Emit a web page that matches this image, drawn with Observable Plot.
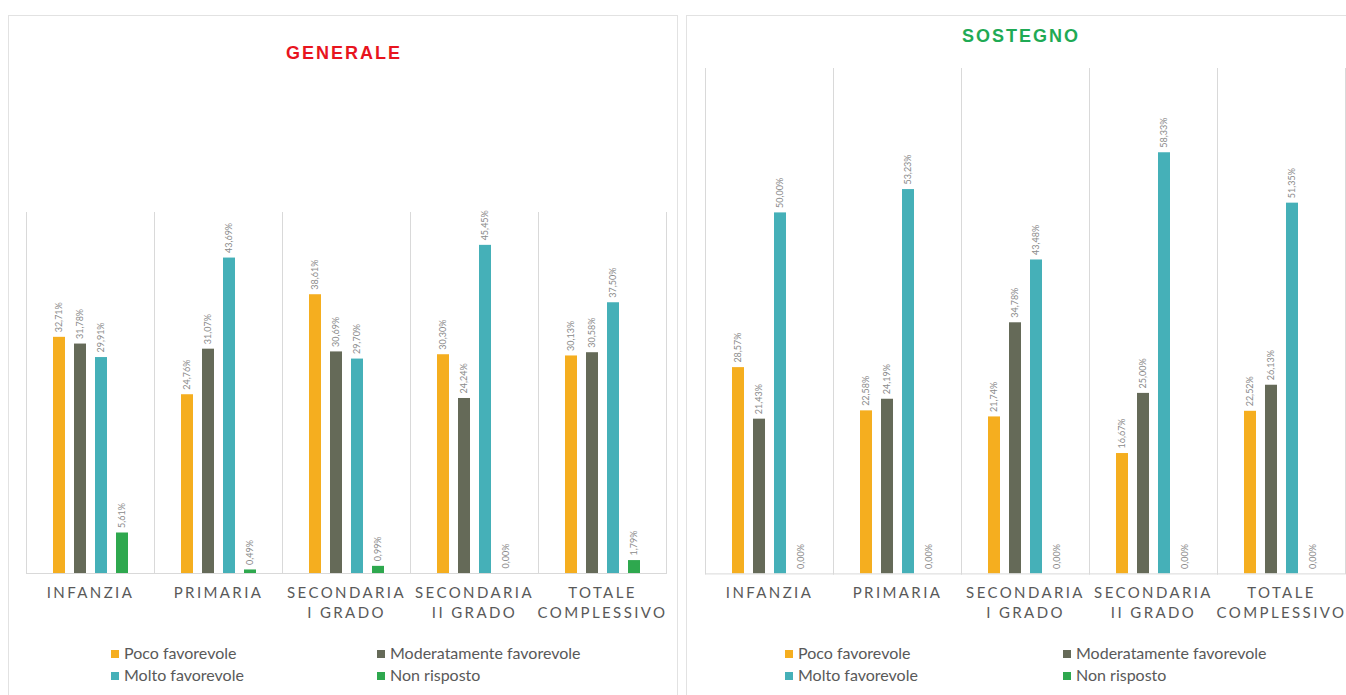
<!DOCTYPE html>
<html><head><meta charset="utf-8">
<script src="https://cdn.jsdelivr.net/npm/d3@7"></script>
<script src="https://cdn.jsdelivr.net/npm/@observablehq/plot@0.6"></script>
<style>
body{margin:0;background:#fff;}
#page{position:relative;width:1346px;height:695px;overflow:hidden;font-family:Lato,sans-serif;background:#fff;}
.panel{position:absolute;border:1px solid #e2e2e2;box-sizing:border-box;background:#fff;}
.title{position:absolute;font-family:"Liberation Sans",Arial,sans-serif;font-weight:bold;font-size:18px;letter-spacing:2px;transform:translate(-50%,-50%);white-space:nowrap;}
.chart{position:absolute;width:680px;}
.chart svg{max-width:none !important;}
.li{position:absolute;white-space:nowrap;font-size:16px;color:#595959;transform:translateY(-50%);line-height:18px;}
.sw{display:inline-block;width:8px;height:8px;margin-right:5px;vertical-align:1px;}
g[aria-label="fx-axis tick label"] text{letter-spacing:2.4px;}
</style></head>
<body><div id="page"></div>
<script>
const categories = ["INFANZIA", "PRIMARIA", "SECONDARIA\nI GRADO", "SECONDARIA\nII GRADO", "TOTALE\nCOMPLESSIVO"];
const seriesNames = ["Poco favorevole", "Moderatamente favorevole", "Molto favorevole", "Non risposto"];
const seriesColors = ["#f5ae1f", "#656a58", "#45b0b8", "#2ea84e"];

// GENERALE (percent)
const generalePoco = [32.71, 24.76, 38.61, 30.30, 30.13];
const generaleModerato = [31.78, 31.07, 30.69, 24.24, 30.58];
const generaleMolto = [29.91, 43.69, 29.70, 45.45, 37.50];
const generaleNonRisposto = [5.61, 0.49, 0.99, 0.00, 1.79];

// SOSTEGNO (percent)
const sostegnoPoco = [28.57, 22.58, 21.74, 16.67, 22.52];
const sostegnoModerato = [21.43, 24.19, 34.78, 25.00, 26.13];
const sostegnoMolto = [50.00, 53.23, 43.48, 58.33, 51.35];
const sostegnoNonRisposto = [0.00, 0.00, 0.00, 0.00, 0.00];

const generaleYMax = 50;
const sostegnoYMax = 70;

function rows(arrays) {
  const out = [];
  categories.forEach((c, i) => {
    seriesNames.forEach((s, j) => out.push({cat: c, series: s, value: arrays[j][i]}));
  });
  return out;
}
const fmt = v => v.toFixed(2).replace(".", ",") + "%";

function makeChart(data, yMax, width, marginLeft, marginRight, plotH) {
  return Plot.plot({
    width,
    height: 22 + plotH + 60,
    marginTop: 22,
    marginBottom: 60,
    marginLeft,
    marginRight,
    style: {background: "transparent", overflow: "visible", maxWidth: "none"},
    fx: {domain: categories, padding: 0, label: null, axis: null},
    x: {domain: seriesNames, paddingInner: 0.45, paddingOuter: 1.14, axis: null},
    y: {domain: [0, yMax], axis: null},
    color: {domain: seriesNames, range: seriesColors},
    marks: [
      Plot.frame({anchor: "left", stroke: "#d9d9d9"}),
      Plot.frame({anchor: "right", stroke: "#d9d9d9"}),
      Plot.barY(data, {fx: "cat", x: "series", y: "value", fill: "series"}),
      Plot.ruleY([0], {stroke: "#d9d9d9"}),
      Plot.text(data, {fx: "cat", x: "series", y: "value", text: d => fmt(d.value), rotate: -90, textAnchor: "start", dy: -5, fontSize: 9, fill: "#8a8a8a", fontFamily: "Lato"}),
      Plot.axisFx({anchor: "bottom", tickSize: 0, tickPadding: 10, fontSize: 15, lineHeight: 1.33, color: "#595959", label: null, fontFamily: "Lato"})
    ]
  });
}

const page = document.getElementById("page");
function add(html, cls, style) {
  const d = document.createElement("div");
  d.className = cls;
  Object.assign(d.style, style);
  if (html instanceof Node) d.appendChild(html); else d.innerHTML = html;
  page.appendChild(d);
  return d;
}

// panels
add("", "panel", {left: "8px", top: "15px", width: "670px", height: "700px"});
add("", "panel", {left: "686px", top: "15px", width: "700px", height: "700px"});

// titles
add("GENERALE", "title", {left: "344px", top: "53px", color: "#e8141e"});
add("SOSTEGNO", "title", {left: "1021px", top: "36px", color: "#1faa55"});

// charts
const pxPerPct = 7.22;
add(makeChart(rows([generalePoco, generaleModerato, generaleMolto, generaleNonRisposto]), generaleYMax, 680, 25, 14, generaleYMax * pxPerPct), "chart", {left: "0px", top: (573 - generaleYMax * pxPerPct - 22) + "px"});
add(makeChart(rows([sostegnoPoco, sostegnoModerato, sostegnoMolto, sostegnoNonRisposto]), sostegnoYMax, 680, 23, 14, sostegnoYMax * pxPerPct), "chart", {left: "680px", top: (573 - sostegnoYMax * pxPerPct - 22) + "px"});

// legends
function legend(col1, col2) {
  const ys = [653, 675];
  const order = [[0, col1, ys[0]], [1, col2, ys[0]], [2, col1, ys[1]], [3, col2, ys[1]]];
  order.forEach(([j, x, y]) => {
    add(`<span class="sw" style="background:${seriesColors[j]}"></span>${seriesNames[j]}`, "li", {left: x + "px", top: y + "px"});
  });
}
legend(111, 377);
legend(785, 1063);
</script>
</body></html>
